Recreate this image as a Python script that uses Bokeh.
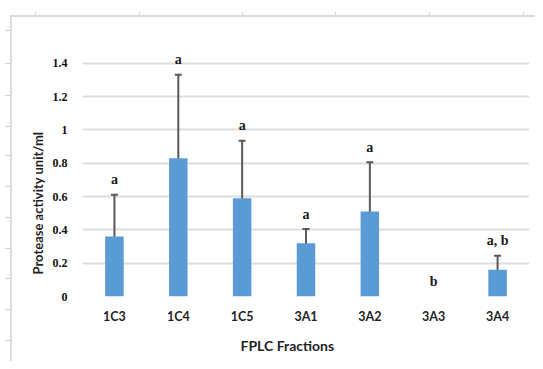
import math
from bokeh.plotting import figure
from bokeh.models import (ColumnDataSource, FactorRange, Range1d, FixedTicker,
                          Whisker, TeeHead, Title)
from bokeh.core.properties import value
from bokeh.embed import file_html
from bokeh.resources import INLINE

categories = ["1C3", "1C4", "1C5", "3A1", "3A2", "3A3", "3A4"]
activity = [0.36, 0.83, 0.59, 0.32, 0.51, 0.0, 0.16]
error = [0.25, 0.50, 0.345, 0.085, 0.295, 0.0, 0.084]
letters = ["a", "a", "a", "a", "a", "b", "a, b"]
y_ticks = [0, 0.2, 0.4, 0.6, 0.8, 1.0, 1.2, 1.4]
y_tick_labels = {0: "0", 0.2: "0.2", 0.4: "0.4", 0.6: "0.6", 0.8: "0.8",
                 1.0: "1", 1.2: "1.2", 1.4: "1.4"}
x_title = "FPLC Fractions"
y_title = "Protease activity unit/ml"

W, H = 535, 361
p = figure(width=W, height=H, x_range=FactorRange(*categories),
           y_range=Range1d(0, 1.5), output_backend="svg", toolbar_location=None,
           min_border_left=82, min_border_right=6, min_border_top=46,
           min_border_bottom=64)
p.outline_line_color = None
p.background_fill_color = "white"
p.border_fill_alpha = 0

# chart-area frame of the original (left and top edges, with small outer ticks)
g = "linear-gradient(#dcdcdc,#dcdcdc)"
t = "linear-gradient(#d4d4d4,#d4d4d4)"
bgs = [f"{g} 10px 15px / 2px 100% no-repeat", f"{g} 10px 15px / 100% 2px no-repeat"]
for tx in [35, 139, 242, 335, 429, 523]:
    bgs.append(f"{t} {tx}px 12px / 1px 4px no-repeat")
for ty in [30, 63, 95, 126, 155, 186, 217, 248, 278, 309, 340]:
    bgs.append(f"{t} 5px {ty}px / 5px 1px no-repeat")
p.styles = {"background": ", ".join(bgs) + ", white"}

lo = [a - e for a, e in zip(activity, error)]
hi = [a + e for a, e in zip(activity, error)]
src = ColumnDataSource(dict(cat=categories, val=activity, lo=lo, hi=hi, lab=letters))

p.vbar(x="cat", top="val", width=0.29, source=src, color="#5b9bd5", line_color=None)

wsrc = ColumnDataSource(dict(
    cat=[c for c, e in zip(categories, error) if e > 0],
    lo=[l for l, e in zip(lo, error) if e > 0],
    hi=[h for h, e in zip(hi, error) if e > 0]))
wh = Whisker(base="cat", lower="lo", upper="hi", source=wsrc,
             line_color="#595959", line_width=2,
             upper_head=TeeHead(size=7, line_color="#595959", line_width=2),
             lower_head=TeeHead(size=7, line_color="#595959", line_width=2))
p.add_layout(wh)

p.text(x="cat", y="hi", text="lab", source=src, text_align="center",
       text_baseline="middle", y_offset=-15, text_font=value("Liberation Serif"),
       text_font_style="bold", text_font_size="14px", text_color="#1a1a1a")

# axes
p.yaxis.ticker = FixedTicker(ticks=y_ticks)
p.yaxis.major_label_overrides = y_tick_labels
p.yaxis.axis_line_color = None
p.yaxis.major_tick_line_color = None
p.yaxis.minor_tick_line_color = None
p.yaxis.major_label_standoff = 9
p.yaxis.major_label_text_font = "Liberation Serif"
p.yaxis.major_label_text_font_style = "bold"
p.yaxis.major_label_text_font_size = "12px"
p.yaxis.major_label_text_color = "#111111"

p.xaxis.axis_line_color = None
p.xaxis.major_tick_line_color = None
p.xaxis.major_label_standoff = 6
p.xaxis.major_label_text_font = "Lato"
p.xaxis.major_label_text_font_style = "bold"
p.xaxis.major_label_text_font_size = "12.5px"
p.xaxis.major_label_text_color = "#1f1f1f"

p.xgrid.grid_line_color = None
p.ygrid.grid_line_color = "#dedede"
p.ygrid.grid_line_width = 2

# axis titles
p.add_layout(Title(text=x_title, align="left", offset=158, standoff=16,
                   text_font="Lato", text_font_style="bold", text_font_size="14px",
                   text_color="#1f1f1f"), "below")
p.add_layout(Title(text=y_title, align="left", offset=22, standoff=8,
                   text_font="Lato", text_font_style="bold", text_font_size="13px",
                   text_color="#1f1f1f"), "left")

with open("out.html", "w") as f:
    f.write(file_html(p, INLINE))
